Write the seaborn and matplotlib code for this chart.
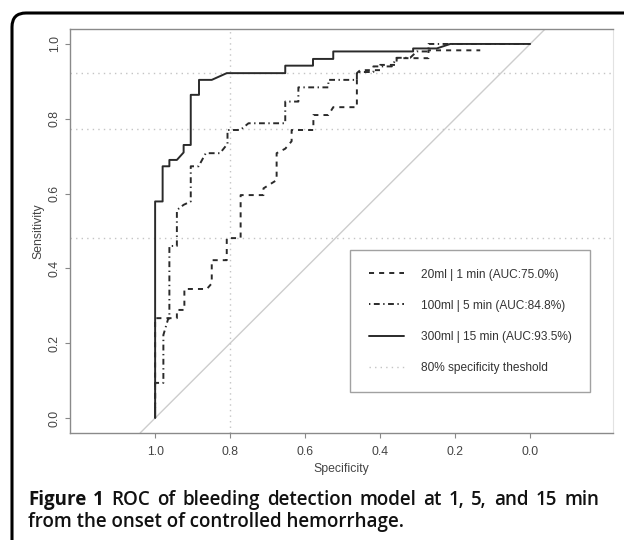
import pandas as pd
import matplotlib
matplotlib.use("Agg")
import matplotlib.pyplot as plt
import seaborn as sns
from matplotlib.lines import Line2D
from matplotlib.patches import FancyBboxPatch

# ROC curve vertices (specificity, sensitivity)
spec_20 = [1.0, 1.0, 0.942, 0.942, 0.922, 0.922, 0.862, 0.849, 0.849, 0.809,
           0.809, 0.772, 0.772, 0.711, 0.711, 0.676, 0.676, 0.653, 0.636, 0.636,
           0.578, 0.578, 0.538, 0.525, 0.462, 0.462, 0.453, 0.40, 0.40, 0.356,
           0.356, 0.271, 0.271, 0.133]
sens_20 = [0.0, 0.267, 0.267, 0.289, 0.289, 0.345, 0.345, 0.36, 0.422, 0.422,
           0.481, 0.481, 0.596, 0.596, 0.614, 0.636, 0.708, 0.72, 0.74, 0.77,
           0.77, 0.81, 0.81, 0.831, 0.831, 0.922, 0.93, 0.93, 0.944, 0.944,
           0.962, 0.962, 0.983, 0.983]

spec_100 = [1.0, 1.0, 0.978, 0.978, 0.965, 0.962, 0.962, 0.942, 0.942, 0.924,
            0.905, 0.905, 0.884, 0.865, 0.827, 0.807, 0.807, 0.773, 0.751, 0.653,
            0.653, 0.618, 0.618, 0.538, 0.538, 0.462, 0.462, 0.418, 0.418, 0.369,
            0.356, 0.32, 0.302, 0.271, 0.271, 0.0]
sens_100 = [0.0, 0.094, 0.094, 0.222, 0.266, 0.266, 0.46, 0.46, 0.556, 0.57,
            0.579, 0.673, 0.673, 0.708, 0.708, 0.733, 0.77, 0.77, 0.788, 0.788,
            0.846, 0.846, 0.884, 0.884, 0.904, 0.904, 0.925, 0.925, 0.94, 0.94,
            0.963, 0.963, 0.98, 0.98, 1.0, 1.0]

spec_300 = [1.0, 1.0, 0.98, 0.98, 0.962, 0.962, 0.942, 0.924, 0.924, 0.905,
            0.905, 0.883, 0.883, 0.849, 0.809, 0.653, 0.653, 0.579, 0.579, 0.525,
            0.525, 0.312, 0.312, 0.249, 0.213, 0.0]
sens_300 = [0.0, 0.579, 0.579, 0.673, 0.673, 0.69, 0.69, 0.71, 0.73, 0.73,
            0.864, 0.864, 0.904, 0.904, 0.922, 0.922, 0.942, 0.942, 0.96, 0.96,
            0.98, 0.98, 0.988, 0.988, 1.0, 1.0]

labels = ["20ml | 1 min (AUC:75.0%)",
          "100ml | 5 min (AUC:84.8%)",
          "300ml | 15 min (AUC:93.5%)"]
thresh_label = "80% specificity theshold"
thresh_spec = 0.8
thresh_sens = [0.481, 0.773, 0.922]
ticks = [1.0, 0.8, 0.6, 0.4, 0.2, 0.0]
tick_labels = ["1.0", "0.8", "0.6", "0.4", "0.2", "0.0"]

caption_bold = "Figure 1"
caption_line1 = "ROC of bleeding detection model at 1, 5, and 15 min"
caption_line2 = "from the onset of controlled hemorrhage."

frames = []
for lab, sp, se in zip(labels, [spec_20, spec_100, spec_300],
                       [sens_20, sens_100, sens_300]):
    frames.append(pd.DataFrame({"model": lab, "spec": sp, "sens": se}))
df = pd.concat(frames, ignore_index=True)

sns.set_style("ticks")
plt.rcParams["font.family"] = ["Liberation Sans", "DejaVu Sans"]

W, H = 624, 540
fig = plt.figure(figsize=(W / 100, H / 100), dpi=100)
ax = fig.add_axes([70 / W, 107 / H, 543 / W, 404 / H])

ink = "#2a2a2a"
light = "#c4c4c4"
dash_map = {labels[0]: (2.6, 2.6), labels[1]: (0.7, 1.8, 3.0, 1.8), labels[2]: ""}

# chance line and 80% specificity guides
ax.axline((0, 1), (1, 0), color="#cdcdcd", lw=1, zorder=1)
ax.axvline(thresh_spec, color=light, lw=1, dashes=(1, 3), zorder=1)
for s in thresh_sens:
    ax.axhline(s, color=light, lw=1, dashes=(1, 3), zorder=1)

sns.lineplot(data=df, x="spec", y="sens", hue="model", style="model",
             palette=[ink] * 3, dashes=dash_map, estimator=None, sort=False,
             linewidth=1.4, legend=False, ax=ax, zorder=3)

ax.set_xlim(1.227, -0.221)
ax.set_ylim(-0.04, 1.04)
ax.set_xticks(ticks)
ax.set_xticklabels(tick_labels)
ax.set_yticks(ticks)
ax.set_yticklabels(tick_labels, rotation=90, va="center")
ax.tick_params(length=3.6, width=0.8, color="#888888", labelcolor="#444444",
               labelsize=8.8)
ax.tick_params(axis="y", pad=3)
ax.tick_params(axis="x", pad=5.5)
ax.set_xlabel("Specificity", fontsize=8.8, color="#444444", labelpad=4)
ax.set_ylabel("Sensitivity", fontsize=8.8, color="#444444", labelpad=3)
for side in ["left", "bottom", "top"]:
    ax.spines[side].set_color("#8a8a8a")
    ax.spines[side].set_linewidth(1)
ax.spines["right"].set_color("#e2e2e2")

handles = [Line2D([], [], color=ink, lw=1.4, dashes=dash_map[labels[0]]),
           Line2D([], [], color=ink, lw=1.4, dashes=dash_map[labels[1]]),
           Line2D([], [], color=ink, lw=1.4),
           Line2D([], [], color=light, lw=1, dashes=(1, 3))]
leg = ax.legend(handles, labels + [thresh_label], loc="upper left",
                bbox_to_anchor=((350 - 70) / 543, (433 - 250) / 404),
                borderaxespad=0, fontsize=8.6, frameon=True, fancybox=False,
                edgecolor="#8a8a8a", borderpad=1.55, labelspacing=1.6,
                handlelength=3.0, handletextpad=1.4)
leg.get_frame().set_linewidth(1)
for t in leg.get_texts():
    t.set_color("#333333")

# journal frame with rounded corner
fig.patches.append(FancyBboxPatch((0.12, -0.5), 7.0, 5.27 + 0.5,
                                  boxstyle="round,pad=0,rounding_size=0.14",
                                  transform=fig.dpi_scale_trans,
                                  facecolor="none", edgecolor="black", lw=2.2))

# caption, first line justified
cap = dict(family=["Open Sans", "DejaVu Sans"], size=13.5, color="#111111")
words = [(w, "bold") for w in caption_bold.split()] + \
        [(w, "semibold") for w in caption_line1.split()]
texts = [fig.text(0, (H - 505) / H, w, weight=wt, va="baseline", **cap)
         for w, wt in words]
fig.canvas.draw()
r = fig.canvas.get_renderer()
widths = [t.get_window_extent(r).width for t in texts]
x0, x1 = 28, 599
gap = (x1 - x0 - sum(widths)) / (len(widths) - 1)
x = x0
for t, w in zip(texts, widths):
    t.set_x(x / W)
    x += w + gap
fig.text(x0 / W, (H - 527) / H, caption_line2, va="baseline",
         weight="semibold", **cap)

fig.savefig("out.png", dpi=100)
